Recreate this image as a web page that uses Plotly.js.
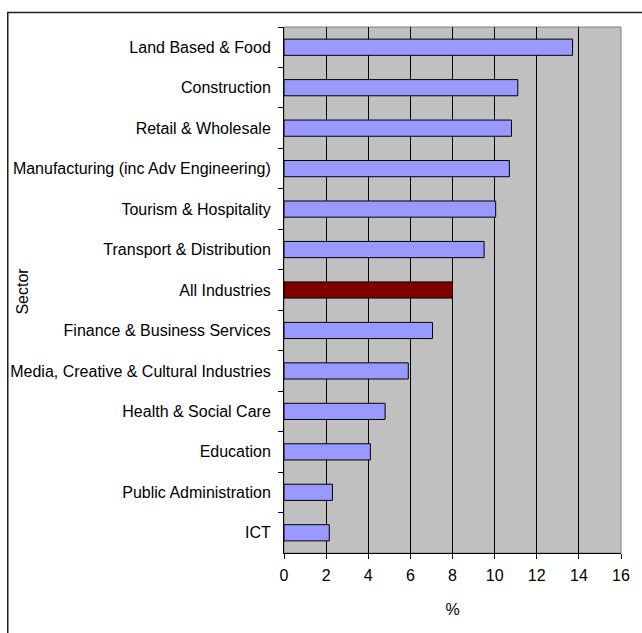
<!DOCTYPE html>
<html>
<head>
<meta charset="utf-8">
<script src="https://cdn.plot.ly/plotly-3.0.1.min.js"></script>
<style>html,body{margin:0;padding:0;background:#fff;}#chart{width:642px;height:633px;}</style>
</head>
<body>
<div id="chart"></div>
<script>
const sectors = [
  "Land Based & Food",
  "Construction",
  "Retail & Wholesale",
  "Manufacturing (inc Adv Engineering)",
  "Tourism & Hospitality",
  "Transport & Distribution",
  "All Industries",
  "Finance & Business Services",
  "Media, Creative & Cultural Industries",
  "Health & Social Care",
  "Education",
  "Public Administration",
  "ICT"
];
const percentValues = [13.7, 11.1, 10.8, 10.7, 10.05, 9.5, 8.0, 7.05, 5.9, 4.8, 4.1, 2.3, 2.15];
const xTickValues = [0, 2, 4, 6, 8, 10, 12, 14, 16];

const barColors = sectors.map(s => s === "All Industries" ? "#800000" : "#9999FF");

const trace = {
  type: "bar",
  orientation: "h",
  y: sectors,
  x: percentValues,
  marker: {color: barColors, line: {color: "#000000", width: 1}},
  width: 0.4,
  hoverinfo: "x+y"
};

const font = {family: "Liberation Sans, Arial, sans-serif", size: 16, color: "#000"};

const layout = {
  width: 642, height: 633,
  margin: {l: 284, r: 21.3, t: 26.5, b: 80.3, pad: 0},
  paper_bgcolor: "#ffffff",
  plot_bgcolor: "#C0C0C0",
  font: font,
  showlegend: false,
  bargap: 0.6,
  xaxis: {
    range: [0, 16],
    tickvals: xTickValues,
    ticktext: xTickValues.map(String),
    ticks: "outside", ticklen: 5, tickcolor: "#000", tickwidth: 1,
    showline: true, linecolor: "#000", linewidth: 1,
    showgrid: true, gridcolor: "#000", gridwidth: 1,
    zeroline: false,
    tickfont: font,
    ticklabelstandoff: 3,
    title: {text: "%", font: font, standoff: 20}
  },
  yaxis: {
    type: "category",
    categoryorder: "array",
    categoryarray: sectors,
    autorange: "reversed",
    ticks: "outside", ticklen: 5, tickcolor: "#000", tickwidth: 1,
    tickson: "boundaries",
    showline: true, linecolor: "#000", linewidth: 1,
    showgrid: false, zeroline: false,
    tickfont: font,
    ticklabelstandoff: 9,
    title: {text: ""}
  },
  shapes: [
    {type: "rect", xref: "paper", yref: "paper", x0: 0, x1: 1, y0: 0, y1: 1,
     line: {color: "#808080", width: 1}, fillcolor: "rgba(0,0,0,0)", layer: "below"},
    {type: "rect", xref: "paper", yref: "paper", x0: -0.8197, x1: 2, y0: -1, y1: 1.0276,
     line: {color: "#202020", width: 1.5}, fillcolor: "rgba(0,0,0,0)"}
  ],
  annotations: [
    {xref: "paper", yref: "paper", x: -0.775, y: 0.4985, text: "Sector", textangle: -90,
     showarrow: false, font: font, xanchor: "center", yanchor: "middle"}
  ]
};

Plotly.newPlot("chart", [trace], layout, {displayModeBar: false, staticPlot: true});
</script>
</body>
</html>
